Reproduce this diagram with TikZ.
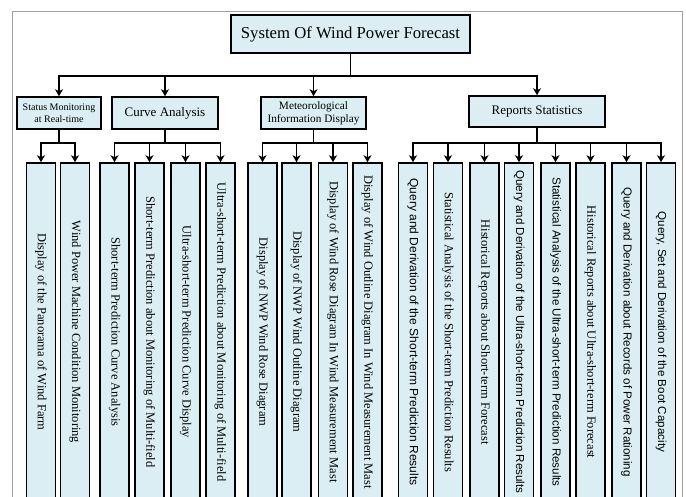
\documentclass[tikz,border=0pt]{standalone}
\usepackage{fontspec}
\setmainfont{Liberation Serif}
\setsansfont{Liberation Sans}
\usetikzlibrary{arrows.meta}

\definecolor{boxfill}{HTML}{DAEEF3}
\definecolor{framegray}{HTML}{A0A0A0}
\newcommand{\sanstext}{\sffamily\fontsize{11.6}{14}\selectfont}
\newcommand{\sanswide}{\sffamily\fontsize{12}{14}\selectfont}

\begin{document}
\begin{tikzpicture}[x=1pt,y=-1pt,
    box/.style={draw,line width=1.6pt,fill=boxfill,inner sep=1pt,align=center},
    leaf/.style={box,minimum width=29pt,minimum height=338pt,font=\fontsize{12.5}{14}\selectfont},
    conn/.style={line width=1.4pt,-{Stealth[length=7pt,width=8pt,inset=2pt]}}]
  \useasboundingbox (0,0) rectangle (686,497);
  \clip (0,0) rectangle (686,497);

  %% Outer frame
  \draw[framegray,line width=0.8pt] (12.5,11) rectangle (682,530);

  %% Top and second level
  \node[box,minimum width=239pt,minimum height=38pt,font=\fontsize{16.7}{20}\selectfont] (SYSTEM) at (350.5,34) {System Of Wind Power Forecast};
  \node[box,minimum width=84pt,minimum height=32pt,font=\fontsize{10}{12}\selectfont] (STATUS) at (59,113) {Status Monitoring\\at Real-time};
  \node[box,minimum width=106pt,minimum height=32pt,font=\fontsize{13}{15}\selectfont] (CURVE) at (165,113) {Curve Analysis};
  \node[box,minimum width=105pt,minimum height=32pt,font=\fontsize{11.3}{12.7}\selectfont] (METEO) at (313.5,113) {Meteorological\\Information Display};
  \node[box,minimum width=136pt,minimum height=31pt,font=\fontsize{13}{15}\selectfont] (REPORT) at (537,111.5) {Reports Statistics};

  \coordinate (BUSA) at (0,76);
  \coordinate (BUSB) at (0,143);
  \foreach \p in {STATUS,CURVE,METEO,REPORT}
    \draw[conn] (SYSTEM.south) |- (\p.north |- BUSA) -- (\p.north);

  %% Vertical boxes of the third level
  \foreach \n/\x/\txt in {
      1/41/{Display of the Panorama of Wind Farm},
      2/75/{Wind Power Machine Condition Monitoring},
      3/114.5/{Short-term Prediction Curve Analysis},
      4/149.5/{Short-term Prediction about Monitoring of Multi-field},
      5/185.5/{Ultra-short-term Prediction Curve Display},
      6/220.5/{Ultra-short-term Prediction about Monitoring of Multi-field},
      7/262.5/{Display of NWP Wind Rose Diagram},
      8/296.5/{Display of NWP Wind Outline Diagram},
      9/333/{Display of Wind Rose Diagram In Wind Measurement Mast},
      10/367.5/{Display of Wind Outline Diagram In Wind Measurement Mast},
      11/413/{\sanswide Query and Derivation of the Short-term Prediction Results},
      12/448/{Statistical Analysis of the Short-term Prediction Results},
      13/484.5/{Historical Reports about Short-term Forecast},
      14/519/{\sanstext Query and Derivation of the Ultra-short-term Prediction Results},
      15/555.5/{\sanstext Statistical Analysis of the Ultra-short-term Prediction Results},
      16/590.5/{Historical Reports about Ultra-short-term Forecast},
      17/626.5/{\sanstext Query and Derivation about Records of Power Rationing},
      18/661/{\sanstext Query, Set and Derivation of the Boot Capacity}}
  {
    \node[leaf] (LEAF\n) at (\x,332) {\rotatebox{-90}{\txt}};
  }

  %% Connectors to the third level
  \foreach \p/\list in {STATUS/{1,2},CURVE/{3,4,5,6},METEO/{7,8,9,10},REPORT/{11,12,13,14,15,16,17,18}}
  {
    \foreach \n in \list
      \draw[conn] (\p.south) |- (LEAF\n.north |- BUSB) -- (LEAF\n.north);
  }
\end{tikzpicture}
\end{document}
